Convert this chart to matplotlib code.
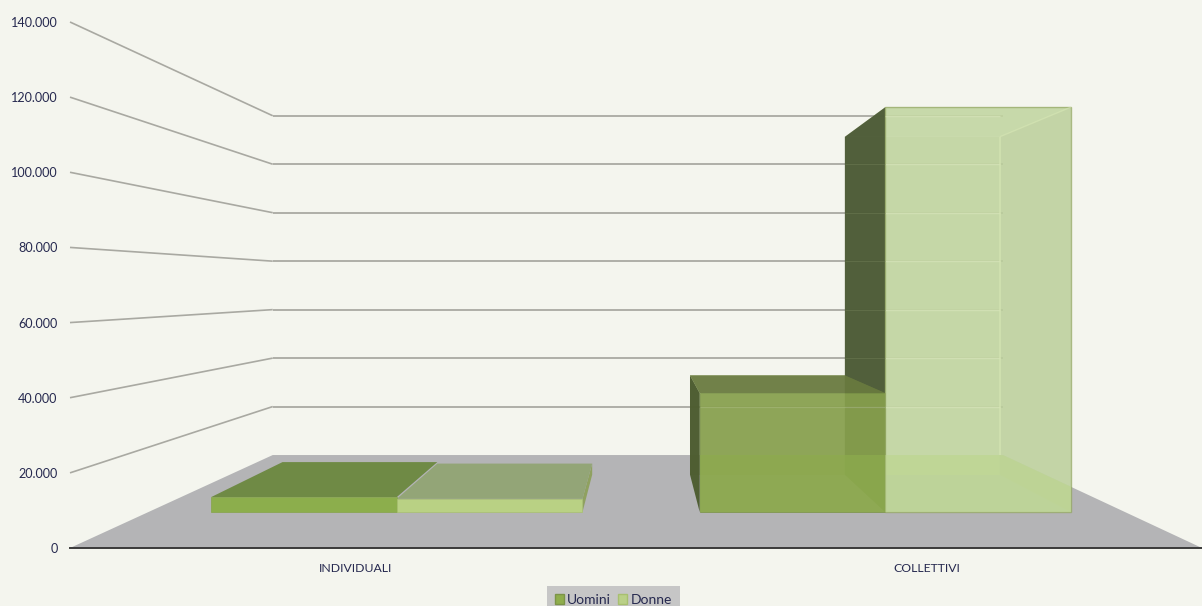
import matplotlib
matplotlib.use("Agg")
import matplotlib.pyplot as plt
from matplotlib.patches import Polygon, Patch

categories = ["INDIVIDUALI", "COLLETTIVI"]
uomini = [4650, 36700]
donne = [4100, 124900]
y_ticks = [0, 20000, 40000, 60000, 80000, 100000, 120000, 140000]

BG = "#F4F5EE"
GRID = "#A9A9A2"
TEXT = "#26294F"
VX, VV = 1.009, 69700
S_BACK, S_BAR_F, S_BAR_B = 0.645, 0.863, 0.72
BAR_W = 0.38

plt.rcParams["font.family"] = ["Lato", "DejaVu Sans"]
fig = plt.figure(figsize=(12.02, 6.06), dpi=100, facecolor=BG)
ax = fig.add_axes([70 / 1202, (606 - 548) / 606, 1132 / 1202, 526 / 606], facecolor="none")
ax.set_xlim(0, 2)
ax.set_ylim(0, 140000)


def pr(x, v, s):
    return (VX + (x - VX) * s, VV + (v - VV) * s)


z = [1]


def poly(pts, color, alpha=1.0, ec="none", lw=0):
    z[0] += 1
    ax.add_patch(Polygon(pts, closed=True, fc=color, alpha=alpha, ec=ec, lw=lw,
                         zorder=z[0], clip_on=False))


def seg(p, q, color, lw=1.4, alpha=1.0):
    z[0] += 1
    ax.plot([p[0], q[0]], [p[1], q[1]], color=color, lw=lw, alpha=alpha,
            zorder=z[0], clip_on=False, solid_capstyle="butt")


# floor
poly([pr(0, 0, 1), pr(2, 0, 1), pr(2, 0, S_BACK), pr(0, 0, S_BACK)], "#B4B4B6")
# walls / gridlines
for v in y_ticks[1:]:
    seg(pr(0, v, 1), pr(0, v, S_BACK), GRID, 1.2)
    seg(pr(0, v, S_BACK), pr(2, v, S_BACK), GRID, 1.3)


def faces(x0, x1, v):
    f = S_BAR_F
    b = S_BAR_B
    return dict(
        left=[pr(x0, 0, f), pr(x0, v, f), pr(x0, v, b), pr(x0, 0, b)],
        right=[pr(x1, 0, f), pr(x1, v, f), pr(x1, v, b), pr(x1, 0, b)],
        top=[pr(x0, v, f), pr(x1, v, f), pr(x1, v, b), pr(x0, v, b)],
        back=[pr(x0, 0, b), pr(x1, 0, b), pr(x1, v, b), pr(x0, v, b)],
        front=[pr(x0, 0, f), pr(x1, 0, f), pr(x1, v, f), pr(x0, v, f)],
    )


centers = [0.509, 1.509]
label_pos = [0.505, 1.513]
floor_back = pr(0, 0, S_BACK)[1]
for i, c in enumerate(centers):
    d = faces(c, c + BAR_W, donne[i])
    u = faces(c - BAR_W, c, uomini[i])
    xa = pr(c - BAR_W, 0, S_BAR_F)[0]
    xb = pr(c, 0, S_BAR_F)[0]
    xc = pr(c + BAR_W, 0, S_BAR_F)[0]
    y0 = pr(0, 0, S_BAR_F)[1]

    if i == 1:
        poly(d["back"], "#C4D6A0", 0.7)
        poly(d["right"], "#B0C08C", 0.6)
        poly(d["top"], "#C6D9A0", 0.6)
        poly(d["left"], "#4C5A36", 0.96)
        # Uomini
        poly(u["back"], "#7F9A4A", 0.45)
        poly(u["left"], "#4D5C30", 0.97)
        poly(u["right"], "#6F8A3C", 0.45)
        poly(u["top"], "#69793F", 0.9)
        poly(u["front"], "#88A04E", 0.88, ec="#7C9448", lw=0.6)
        # floor as seen through the translucent fronts
        poly([(xa, y0), (xb, y0), (xb, floor_back), (xa, floor_back)], "#90B04E", 0.55)
        # Donne front
        poly(d["front"], "#C0D4A0", 0.68, ec="#8FA35C", lw=1.0)
        s_edge = (xc - VX) / (2 - VX)
        poly([(xb, y0), (xc, y0), (xc, pr(2, 0, s_edge)[1]), pr(2, 0, S_BACK),
              (xb, floor_back)], "#BFDA90", 0.6)
        # gridlines and edges showing through
        xg0 = xb
        xg1 = pr(c + BAR_W, 0, S_BAR_B)[0]
        for v in y_ticks[1:]:
            yg = pr(0, v, S_BACK)[1]
            seg((xg0, yg), (xg1, yg), "#D8E6BC", 1.0, 0.7)
            if v < 140000:
                seg((pr(c, 0, S_BAR_B)[0], yg), (xg0, yg), "#6A7850", 0.8, 0.6)
        seg((xa, pr(0, 20000, S_BACK)[1]), (xb, pr(0, 20000, S_BACK)[1]), "#A4B878", 0.9, 0.7)
        seg((xg1, floor_back), pr(c + BAR_W, donne[i], S_BAR_B), "#D6E6B4", 1.2, 0.75)
        seg(pr(c + BAR_W, donne[i], S_BAR_B), pr(c + BAR_W, donne[i], S_BAR_F), "#D6E6B4", 1.0, 0.6)
    else:
        poly(d["right"], "#8DA05C", 0.95)
        poly(d["top"], "#93A577", 1.0)
        poly(u["top"], "#6F8A45", 1.0)
        poly(u["front"], "#8CAE4C", 1.0, ec="#86A448", lw=0.5)
        poly(d["front"], "#B9D184", 1.0, ec="#A8C070", lw=0.5)

# axes dressing
for name in ("top", "right", "left"):
    ax.spines[name].set_visible(False)
ax.spines["bottom"].set_color("#3A3A3A")
ax.spines["bottom"].set_linewidth(1.4)
ax.spines["bottom"].set_zorder(500)
ax.set_yticks(y_ticks)
ax.set_yticklabels([f"{v:,}".replace(",", ".") for v in y_ticks])
ax.set_xticks(label_pos)
ax.set_xticklabels(categories)
ax.tick_params(axis="y", length=0, pad=9, labelsize=9.1, labelcolor=TEXT)
ax.tick_params(axis="x", length=0, pad=10.5, labelsize=8.8, labelcolor=TEXT)

handles = [Patch(fc="#8FAE4C", ec="#7C9448", label="Uomini"),
           Patch(fc="#BAD088", ec="#A8C070", label="Donne")]
leg = fig.legend(handles=handles, loc="center", bbox_to_anchor=(613.5 / 1202, 1 - 600 / 606),
                 ncol=2, frameon=True, fontsize=10, handlelength=0.65, handleheight=0.65,
                 handletextpad=0.25, columnspacing=0.5, borderpad=0.6, fancybox=False,
                 labelcolor=TEXT)
leg.get_frame().set_facecolor("#C6C6C6")
leg.get_frame().set_edgecolor("none")
leg.get_frame().set_alpha(1)

fig.savefig("out.png", dpi=100, facecolor=BG)
